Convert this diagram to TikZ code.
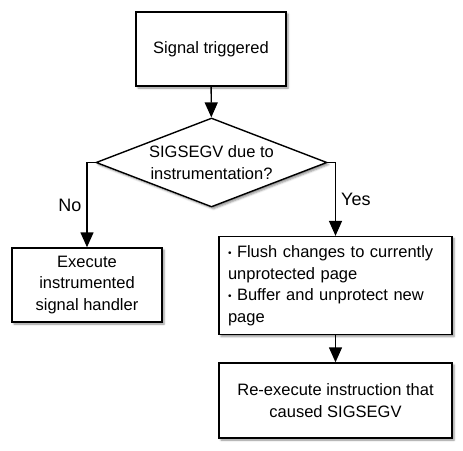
\documentclass[tikz,border=0pt]{standalone}
\usepackage{fontspec}
\setmainfont{Liberation Sans}
\usetikzlibrary{positioning, shapes.geometric, arrows.meta, shadows.blur}

\newcommand{\flowbullet}{\raisebox{1.5pt}{\fontsize{10}{10}\selectfont\textbullet}}

\begin{document}
\begin{tikzpicture}[x=1pt, y=-1pt,
    box/.style={draw, line width=1.4pt, fill=white, minimum width=150pt, minimum height=74pt,
      align=center, inner sep=4pt, font=\fontsize{16.5}{21.5}\selectfont,
      blur shadow={shadow xshift=2pt, shadow yshift=-2pt, shadow blur radius=2pt, shadow opacity=45}},
    decision/.style={box, diamond, aspect=2.6, inner sep=0pt, minimum width=231pt, minimum height=89pt},
    flow/.style={line width=1.4pt, -{Triangle[length=15pt, width=13pt]}},
    answer/.style={font=\fontsize{18}{18}\selectfont, inner sep=5pt}]
  \useasboundingbox (0,0) rectangle (463,450);

  \node[box] (sig) at (211,49) {Signal triggered};
  \node[decision] (dec) at (211.5,162.5) {SIGSEGV due to\\instrumentation?};
  \node[box] (noact) at (87,285) {Execute\\instrumented\\signal handler};
  \node[box, minimum width=233pt, minimum height=93pt, text width=215pt, align=left, inner sep=9pt]
    (flush) at (335.5,285.5)
    {\flowbullet{} Flush changes to currently\\unprotected page\\\flowbullet{} Buffer and unprotect new\\page};
  \node[box, minimum width=233pt, minimum height=75pt] (reexec) at (335.5,400.5)
    {Re-execute instruction that\\caused SIGSEGV};

  % connectors
  \draw[flow] (sig) -- (dec);
  \draw[flow] (dec.west) -| node[answer, pos=0.75, left] {No} (noact.north);
  \draw[flow] (dec.east) -| node[answer, pos=0.75, right] {Yes} (flush.north);
  \draw[flow] (flush) -- (reexec);
\end{tikzpicture}
\end{document}
